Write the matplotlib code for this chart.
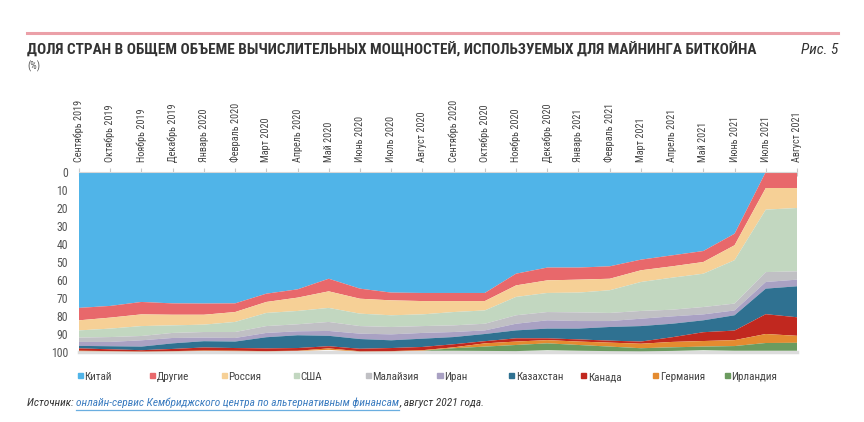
import matplotlib
matplotlib.use("Agg")
import matplotlib.pyplot as plt
import matplotlib.font_manager as fm
from matplotlib.font_manager import FontProperties
from matplotlib.patches import Rectangle
from matplotlib.lines import Line2D
import numpy as np

months = ["Сентябрь 2019", "Октябрь 2019", "Ноябрь 2019", "Декабрь 2019",
          "Январь 2020", "Февраль 2020", "Март 2020", "Апрель 2020", "Май 2020",
          "Июнь 2020", "Июль 2020", "Август 2020", "Сентябрь 2020", "Октябрь 2020",
          "Ноябрь 2020", "Декабрь 2020", "Январь 2021", "Февраль 2021", "Март 2021",
          "Апрель 2021", "Май 2021", "Июнь 2021", "Июль 2021", "Август 2021"]

countries = ["Китай", "Другие", "Россия", "США", "Малайзия", "Иран",
             "Казахстан", "Канада", "Германия", "Ирландия"]

china      = [75.5, 74.4, 72.2, 73.0, 73.1, 73.0, 67.6, 65.2, 59.3, 64.8, 67.0, 67.2,
              67.2, 67.2, 56.5, 53.1, 53.1, 52.4, 48.7, 46.3, 43.9, 34.3, 0.0, 0.0]
others     = [6.9, 6.5, 6.9, 6.3, 6.2, 4.8, 4.6, 4.6, 7.0, 5.6, 4.3, 4.5,
              4.5, 4.5, 6.5, 7.1, 6.7, 6.9, 5.9, 6.1, 6.1, 6.4, 8.9, 8.9]
russia     = [5.6, 6.1, 6.5, 5.9, 5.5, 5.5, 6.1, 7.4, 9.2, 8.3, 8.3, 7.4,
              6.1, 5.2, 6.4, 7.0, 7.2, 6.4, 6.5, 6.3, 6.5, 8.3, 12.0, 11.1]
usa        = [4.0, 4.7, 5.5, 4.2, 4.1, 5.6, 7.3, 7.4, 7.8, 6.9, 6.5, 6.5,
              7.4, 7.4, 10.2, 10.6, 11.0, 12.6, 16.1, 17.8, 18.5, 24.1, 34.7, 35.2]
malaysia   = [2.4, 2.7, 2.4, 2.8, 3.1, 3.3, 3.8, 3.9, 5.0, 4.2, 4.1, 3.8,
              3.7, 3.7, 4.7, 4.6, 4.8, 4.5, 4.3, 3.7, 4.1, 3.8, 5.5, 4.6]
iran       = [2.2, 2.4, 3.5, 3.0, 2.0, 2.0, 2.4, 2.2, 2.7, 3.0, 3.3, 3.2,
              2.8, 2.0, 3.7, 4.6, 4.2, 3.3, 4.1, 4.1, 3.3, 2.7, 3.7, 3.7]
kazakhstan = [1.4, 1.7, 2.0, 3.1, 3.5, 3.6, 6.2, 7.1, 5.8, 5.4, 4.3, 4.6,
              4.0, 4.0, 4.4, 5.4, 6.0, 7.6, 8.6, 7.5, 6.6, 8.5, 14.2, 17.2]
canada     = [1.3, 1.0, 0.7, 1.2, 1.7, 1.5, 1.5, 1.5, 1.2, 1.4, 1.7, 1.8,
              1.7, 1.2, 1.8, 1.0, 1.2, 1.1, 1.2, 2.6, 4.9, 5.3, 11.0, 10.3]
germany    = [0.2, 0.1, 0.1, 0.1, 0.2, 0.2, 0.1, 0.1, 0.8, 0.1, 0.1, 0.3,
              0.5, 1.8, 1.9, 1.8, 1.9, 2.2, 2.5, 3.0, 3.1, 3.3, 5.0, 3.9]
ireland    = [0.0, 0.0, 0.0, 0.0, 0.0, 0.0, 0.0, 0.0, 0.0, 0.0, 0.0, 0.0,
              1.4, 2.4, 3.4, 3.8, 3.2, 2.5, 1.7, 2.0, 2.0, 2.6, 4.3, 4.4]

yticks = [0, 10, 20, 30, 40, 50, 60, 70, 80, 90, 100]

colors = ["#50b4e8", "#e8686b", "#f6d096", "#c2d7c0", "#c0c0c4", "#a9a1c3",
          "#2f7191", "#c1281f", "#e48b30", "#6b9b5f"]

# ---- find a condensed font if one exists ----
def _is_condensed(f):
    st = f.stretch
    if isinstance(st, str):
        return st in ("condensed", "semi-condensed", "extra-condensed", "ultra-condensed")
    try:
        return int(st) < 500
    except Exception:
        return False

cond_names = {}
for f in fm.fontManager.ttflist:
    if _is_condensed(f) or "Narrow" in f.name or "Condensed" in f.name:
        cond_names.setdefault(f.name, []).append(f)

FAMILY = "DejaVu Sans"
STRETCH = "normal"
for pref in ["Roboto Condensed", "Liberation Sans Narrow", "Open Sans Condensed",
             "Noto Sans", "Open Sans", "DejaVu Sans", "Roboto"]:
    if pref in cond_names:
        FAMILY = pref
        STRETCH = "condensed"
        break

def fp(size, weight="normal", style="normal"):
    return FontProperties(family=[FAMILY, "DejaVu Sans"], stretch=STRETCH,
                          weight=weight, style=style, size=size)

W, H = 864, 422
fig = plt.figure(figsize=(W / 100, H / 100), dpi=100)

def fx(px):
    return px / W

def fy(py):
    return 1 - py / H

ax = fig.add_axes([fx(79), fy(352), fx(797) - fx(79), fy(172) - fy(352)])
x = np.arange(len(months))
series = [china, others, russia, usa, malaysia, iran, kazakhstan, canada, germany, ireland]
ax.stackplot(x, *series, colors=colors, linewidth=0, zorder=2)
ax.axhline(100, color="#dcdcdc", lw=2.5, zorder=1, clip_on=False)

ax.set_xlim(0, len(months) - 1)
ax.set_ylim(100, 0)
ax.set_yticks(yticks)
ax.set_yticklabels([str(v) for v in yticks], fontproperties=fp(8.5), color="#555555")
ax.tick_params(axis="y", length=0, pad=8)
ax.xaxis.tick_top()
ax.set_xticks(x)
ax.set_xticklabels(months, rotation=90, fontproperties=fp(7.3), color="#444444")
ax.tick_params(axis="x", direction="inout", length=6, color="#c8c8c8", width=0.8, pad=4)
for s in ["left", "right", "bottom"]:
    ax.spines[s].set_visible(False)
ax.spines["top"].set_color("#d8d8d8")
ax.spines["top"].set_linewidth(0.8)

fig.add_artist(Line2D([fx(27), fx(838)], [fy(33), fy(33)], color="#eba0a8", lw=2.2))

fig.canvas.draw()
r = fig.canvas.get_renderer()

def fit_text(px_x, px_y, s, target_w, base, weight="normal", style="normal", **kw):
    t = fig.text(fx(px_x), fy(px_y), s, fontproperties=fp(base, weight, style), **kw)
    w = t.get_window_extent(r).width
    if w > target_w:
        t.set_fontsize(base * target_w / w)
    return t

fit_text(27, 50, "ДОЛЯ СТРАН В ОБЩЕМ ОБЪЕМЕ ВЫЧИСЛИТЕЛЬНЫХ МОЩНОСТЕЙ, ИСПОЛЬЗУЕМЫХ ДЛЯ МАЙНИНГА БИТКОЙНА",
         738, 11, weight="bold", color="#333333", ha="left", va="center")
fig.text(fx(838), fy(50), "Рис. 5", fontproperties=fp(11, style="italic"), color="#333333",
         ha="right", va="center")
fig.text(fx(27), fy(66), "(%)", fontproperties=fp(7.5), color="#555555", ha="left", va="center")

for i, (name, col) in enumerate(zip(countries, colors)):
    x0 = 78 + i * 71.9
    fig.add_artist(Rectangle((fx(x0), fy(378)), fx(5), 5 / H, color=col, transform=fig.transFigure))
    fig.text(fx(x0 + 6.5), fy(380.5), name, fontproperties=fp(8), color="#444444",
             ha="left", va="baseline")

t1 = fig.text(fx(27), fy(406), "Источник: ", fontproperties=fp(8.2, style="italic"),
              color="#333333", ha="left", va="baseline")
bb = t1.get_window_extent(r)
t2 = fig.text(bb.x1 / W, fy(406), "онлайн-сервис Кембриджского центра по альтернативным финансам",
              fontproperties=fp(8.2, style="italic"), color="#3b7cc0", ha="left", va="baseline")
bb2 = t2.get_window_extent(r)
fig.add_artist(Line2D([bb2.x0 / W, bb2.x1 / W], [fy(409.5), fy(409.5)], color="#6aaee0", lw=0.9))
fig.text(bb2.x1 / W, fy(406), ", август 2021 года.", fontproperties=fp(8.2, style="italic"),
         color="#333333", ha="left", va="baseline")

fig.savefig("out.png", dpi=100)
